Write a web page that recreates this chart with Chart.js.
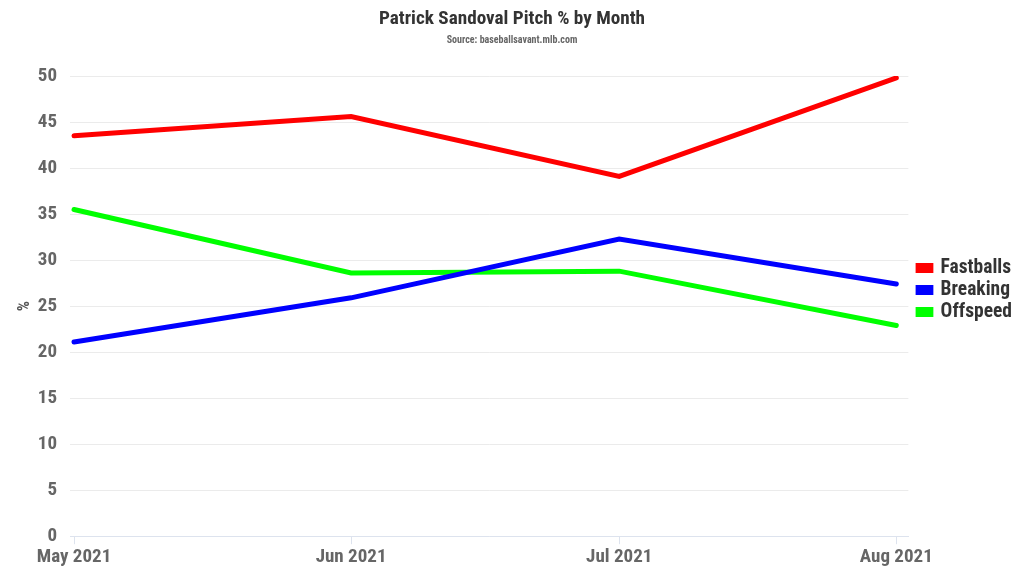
<!DOCTYPE html>
<html>
<head>
<meta charset="utf-8">
<script src="https://cdn.jsdelivr.net/npm/chart.js@4/dist/chart.umd.min.js"></script>
<style>
html,body{margin:0;padding:0;background:#fff;}
#wrap{width:1024px;height:576px;position:relative;}
</style>
</head>
<body>
<div id="wrap"><canvas id="c" width="1024" height="576"></canvas></div>
<script>
const months = ["May 2021", "Jun 2021", "Jul 2021", "Aug 2021"];
const dayOffsets = [0, 31, 61, 92];
const fastballs = [43.5, 45.6, 39.1, 49.8];
const breaking = [21.1, 25.9, 32.3, 27.4];
const offspeed = [35.5, 28.6, 28.8, 22.9];
const yTicks = [0, 5, 10, 15, 20, 25, 30, 35, 40, 45, 50];

const FONT = "'Liberation Sans Narrow', 'Roboto Condensed', Roboto, sans-serif";

function pts(vals){ return vals.map((v,i)=>({x:dayOffsets[i], y:v})); }

const ds = (label, vals, color) => ({
  label, data: pts(vals), borderColor: color, backgroundColor: color,
  borderWidth: 5, pointRadius: 0, tension: 0, fill: false, borderCapStyle: 'round', borderJoinStyle: 'miter'
});

// widen the right-hand legend and leave a gap between plot and legend boxes
const legendSpacing = {
  id: 'legendSpacing',
  beforeLayout(chart) {
    const lg = chart.legend;
    if (lg && !lg._spaced) {
      const orig = lg.fit;
      lg.fit = function () { orig.call(this); this.width += 9; };
      lg._spaced = true;
    }
  },
  afterLayout(chart) {
    if (chart.legend) { chart.legend.left += 7; chart.legend.top += 3; chart.legend.bottom += 3; }
  }
};

new Chart(document.getElementById('c'), {
  type: 'line',
  data: { datasets: [
    ds('Fastballs', fastballs, '#ff0000'),
    ds('Breaking', breaking, '#0000ff'),
    ds('Offspeed', offspeed, '#00ff00')
  ]},
  plugins: [legendSpacing],
  options: {
    responsive: false, animation: false,
    layout: { padding: { left: 0, right: 0, top: 3, bottom: 5 } },
    plugins: {
      title: { display: true, text: 'Patrick Sandoval Pitch % by Month', color: '#333',
        font: { family: FONT, size: 19.2, weight: 'bold' }, padding: { top: 5, bottom: 3 } },
      subtitle: { display: true, text: 'Source: baseballsavant.mlb.com', color: '#666',
        font: { family: FONT, size: 10, weight: 'bold' }, padding: { top: 0, bottom: 30 } },
      legend: { position: 'right', align: 'center',
        labels: { boxWidth: 13, boxHeight: 5, color: '#333', padding: 2.5,
          font: { family: FONT, size: 19.5, weight: 'bold' } } },
      tooltip: { enabled: false }
    },
    scales: {
      x: { type: 'linear', min: -0.45, max: 93.35,
        afterBuildTicks: (ax) => { ax.ticks = dayOffsets.map(v => ({ value: v })); },
        ticks: { callback: (v) => { const i = dayOffsets.indexOf(v); return i >= 0 ? months[i] : ''; },
          color: '#666', font: { family: FONT, size: 19, weight: 'bold' }, maxRotation: 0, autoSkip: false, padding: 2 },
        grid: { drawOnChartArea: false, drawTicks: true, tickLength: 8, color: '#dde3ee' },
        border: { color: '#dde3ee' }
      },
      y: { min: 0, max: 50,
        afterBuildTicks: (ax) => { ax.ticks = yTicks.map(v => ({ value: v })); },
        afterFit: (ax) => { ax.width = 70; },
        ticks: { color: '#666', font: { family: FONT, size: 19, weight: 'bold' }, padding: 13 },
        grid: { color: '#ebebeb', drawTicks: false },
        border: { display: false },
        title: { display: true, text: '%', color: '#555', font: { family: FONT, size: 16, weight: 'bold' }, padding: { top: 15, bottom: 0 } }
      }
    }
  }
});
</script>
</body>
</html>
